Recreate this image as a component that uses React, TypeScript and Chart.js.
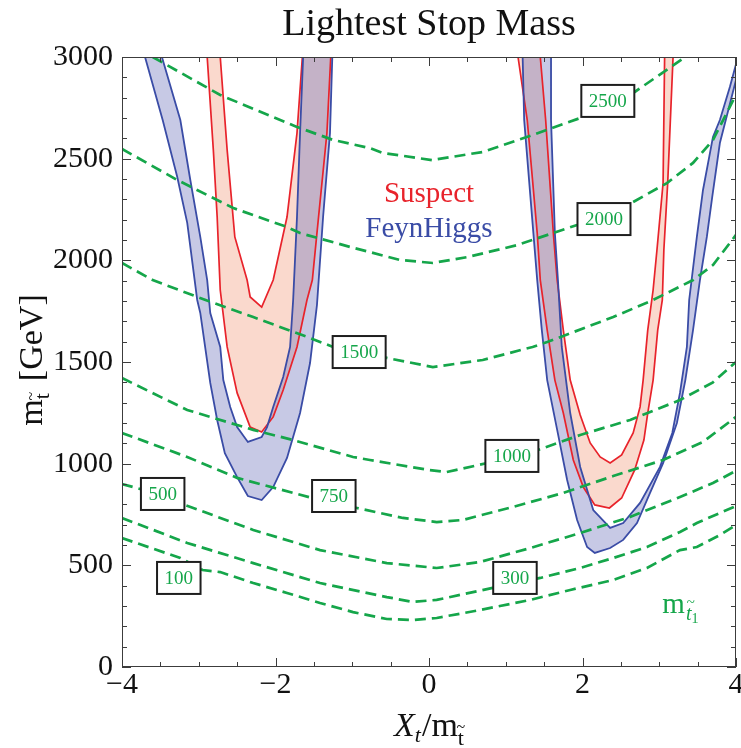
import React, { useEffect, useRef } from 'react';
import { Chart, registerables } from 'chart.js';

Chart.register(...registerables);

const W = 741;
const H = 748;
const SERIF = '"Liberation Serif", "Times New Roman", Times, serif';
const GREEN = '#15a64a';
const RED = '#e8232b';
const BLUE = '#3a4ca6';

const TITLE = 'Lightest Stop Mass';

// ---- axis ticks ----
const xTickValues = [-4, -2, 0, 2, 4];
const yTickValues = [0, 500, 1000, 1500, 2000, 2500, 3000];

// ---- m_stop1 contours (green dashed) ----
const c100X = [-4, -3.24, -2.95, -2.72, -2.29, -1.85, -1.42, -0.99, -0.55, -0.21, 0.1, 0.66, 1.32, 1.84, 2.4, 2.84, 3.27, 3.49, 3.79, 4.0];
const c100Y = [634, 536, 477, 467, 413, 364, 315, 270, 236, 231, 241, 280, 330, 379, 428, 487, 575, 590, 649, 698];

const c300X = [-4, -3.15, -2.29, -1.42, -0.55, -0.21, 0.1, 0.83, 1.45, 1.97, 2.4, 2.84, 3.27, 3.49, 4.0];
const c300Y = [733, 610, 511, 413, 344, 320, 330, 389, 438, 487, 536, 590, 664, 708, 792];

const c500X = [-4, -3.48, -3.18, -2.29, -1.42, -0.55, 0.1, 0.66, 1.32, 1.97, 2.62, 3.27, 3.7, 4.0];
const c500Y = [900, 846, 797, 674, 575, 511, 487, 516, 585, 659, 738, 836, 905, 965];

const c750X = [-4, -3.15, -2.5, -1.52, -0.94, -0.34, 0.1, 0.44, 1.09, 1.75, 2.4, 3.05, 3.57, 4.0];
const c750Y = [1151, 1033, 930, 831, 782, 733, 713, 723, 787, 856, 939, 1018, 1107, 1230];

const c1000X = [-4, -3.15, -2.29, -1.77, -0.99, -0.77, 0.0, 0.23, 0.76, 1.42, 1.97, 2.62, 3.27, 3.7, 4.0];
const c1000Y = [1421, 1264, 1166, 1116, 1033, 1018, 969, 959, 1003, 1067, 1141, 1215, 1313, 1400, 1500];

const c1500X = [-4, -3.6, -3.02, -2.29, -1.55, -1.25, -0.55, 0.05, 0.7, 1.35, 1.54, 2.23, 2.4, 2.92, 3.44, 3.7, 4.0];
const c1500Y = [1987, 1903, 1820, 1721, 1618, 1574, 1520, 1475, 1510, 1574, 1598, 1697, 1721, 1805, 1903, 1977, 2125];

const c2000X = [-4, -3.28, -2.55, -1.85, -1.68, -1.03, -0.38, 0.05, 0.5, 1.15, 1.93, 2.66, 3.1, 3.44, 3.7, 3.88, 4.01];
const c2000Y = [2548, 2395, 2257, 2164, 2134, 2066, 2002, 1987, 2016, 2075, 2174, 2287, 2380, 2479, 2592, 2725, 2823];

const c2500X = [-3.6, -2.72, -1.72, -1.25, -0.77, -0.6, 0.04, 0.7, 1.35, 1.97, 2.68, 3.34];
const c2500Y = [3000, 2813, 2656, 2592, 2552, 2528, 2493, 2533, 2616, 2700, 2828, 3000];

// contour labels
const labelText = ['2500', '2000', '1500', '1000', '750', '500', '300', '100'];
const labelX = [2.33, 2.28, -0.91, 1.08, -1.24, -3.47, 1.12, -3.26];
const labelY = [2784, 2203, 1549, 1038, 841, 851, 438, 438];

// ---- FeynHiggs band (blue) ----
const fhLeftOuterX = [-3.7, -3.47, -3.28, -3.15, -3.02, -2.98, -2.85, -2.76, -2.66, -2.5, -2.36, -2.18, -2.03, -1.85, -1.68, -1.55, -1.46, -1.38, -1.29, -1.26];
const fhLeftOuterY = [3000, 2690, 2410, 2184, 1805, 1741, 1397, 1215, 1052, 934, 841, 821, 885, 1028, 1249, 1495, 1780, 2213, 2626, 3000];
const fhLeftInnerX = [-3.48, -3.24, -3.11, -2.98, -2.89, -2.85, -2.72, -2.68, -2.59, -2.5, -2.36, -2.18, -2.11, -2.03, -1.9, -1.81, -1.77, -1.72, -1.68, -1.64];
const fhLeftInnerY = [3000, 2690, 2395, 2115, 1903, 1741, 1574, 1411, 1279, 1180, 1107, 1131, 1180, 1279, 1426, 1574, 1805, 2213, 2626, 3000];

const fhRightOuterX = [1.22, 1.24, 1.36, 1.41, 1.47, 1.54, 1.67, 1.8, 1.93, 2.06, 2.16, 2.36, 2.53, 2.71, 2.88, 3.05, 3.23, 3.34, 3.44, 3.53, 3.62, 3.69, 3.79, 3.9, 4.01, 4.12];
const fhRightOuterY = [3000, 2690, 2134, 1903, 1657, 1411, 1166, 920, 723, 590, 561, 585, 625, 708, 856, 1003, 1200, 1411, 1657, 1903, 2115, 2311, 2577, 2739, 2902, 3034];
const fhRightInnerX = [1.59, 1.59, 1.64, 1.68, 1.73, 1.84, 1.97, 2.14, 2.36, 2.53, 2.75, 3.01, 3.17, 3.27, 3.36, 3.39, 3.49, 3.57, 3.7, 3.79, 3.92, 4.05];
const fhRightInnerY = [3000, 2690, 2134, 1903, 1574, 1249, 984, 772, 684, 708, 807, 984, 1151, 1348, 1574, 1805, 2115, 2346, 2607, 2690, 2852, 3034];

// ---- Suspect band (red) ----
const suLeftOuterX = [-2.89, -2.81, -2.76, -2.72, -2.63, -2.5, -2.33, -2.18, -2.03, -1.9, -1.72, -1.59, -1.52, -1.46, -1.33, -1.28];
const suLeftOuterY = [3000, 2543, 2213, 1854, 1574, 1348, 1180, 1156, 1230, 1362, 1574, 1805, 1903, 2134, 2626, 3000];
const suLeftInnerX = [-2.72, -2.63, -2.53, -2.37, -2.33, -2.18, -2.03, -1.85, -1.72, -1.65];
const suLeftInnerY = [3000, 2543, 2115, 1903, 1820, 1770, 1903, 2213, 2626, 3000];

const suRightOuterX = [1.16, 1.28, 1.41, 1.45, 1.54, 1.64, 1.75, 1.88, 2.01, 2.16, 2.35, 2.51, 2.68, 2.8, 2.85, 2.92, 2.98, 3.04, 3.06, 3.11, 3.18];
const suRightOuterY = [3000, 2690, 2134, 1903, 1657, 1411, 1249, 1018, 885, 797, 782, 831, 969, 1116, 1249, 1411, 1657, 1805, 2051, 2380, 3000];
const suRightInnerX = [1.45, 1.52, 1.62, 1.67, 1.75, 1.84, 1.97, 2.1, 2.23, 2.36, 2.51, 2.66, 2.75, 2.79, 2.85, 2.92, 2.97, 3.05, 3.07];
const suRightInnerY = [3000, 2690, 2134, 1903, 1657, 1411, 1239, 1102, 1033, 1003, 1043, 1151, 1279, 1411, 1657, 1854, 2051, 2380, 3000];

// legend text positions (data coords)
const legendText = ['Suspect', 'FeynHiggs'];
const legendColor = [RED, BLUE];
const legendX = [0.0, 0.0];
const legendY = [2287, 2115];

// m_t1 label position (data coords)
const mLabelX = 3.04;
const mLabelY = 266;

const pts = (xs: number[], ys: number[]) => xs.map((x, i) => ({ x, y: ys[i] }));
const band = (ox: number[], oy: number[], ix: number[], iy: number[]) => [
  ...pts(ox, oy),
  ...pts(ix, iy).reverse(),
];

type Piece = { t: string; font: string; dy?: number; tilde?: string; tdy?: number; tdx?: number; gap?: number };

function piecesWidth(ctx: CanvasRenderingContext2D, pieces: Piece[]) {
  let w = 0;
  for (const p of pieces) {
    ctx.font = p.font;
    w += ctx.measureText(p.t).width + (p.gap || 0);
  }
  return w;
}

function drawPieces(ctx: CanvasRenderingContext2D, pieces: Piece[], x0: number, y0: number) {
  let x = x0;
  ctx.textAlign = 'left';
  ctx.textBaseline = 'alphabetic';
  for (const p of pieces) {
    ctx.font = p.font;
    const w = ctx.measureText(p.t).width;
    ctx.fillText(p.t, x, y0 + (p.dy || 0));
    if (p.tilde) {
      ctx.save();
      ctx.font = p.tilde;
      ctx.textAlign = 'center';
      ctx.fillText('~', x + w / 2 + (p.tdx || 0), y0 + (p.dy || 0) + (p.tdy || 0));
      ctx.restore();
    }
    x += w + (p.gap || 0);
  }
}

const decorPlugin = {
  id: 'decor',
  afterDraw(chart: any) {
    const { ctx, chartArea: a, scales } = chart;
    const xs = scales.x;
    const ys = scales.y;
    ctx.save();

    // frame
    ctx.strokeStyle = '#3c3c3c';
    ctx.lineWidth = 1;
    ctx.strokeRect(a.left + 0.5, a.top + 0.5, a.right - a.left - 1, a.bottom - a.top - 1);

    // ticks (inside)
    ctx.beginPath();
    for (let v = -4; v <= 4.001; v += 0.5) {
      const major = Math.abs(v - Math.round(v / 2) * 2) < 1e-6;
      const len = major ? 9 : 5;
      const px = Math.round(xs.getPixelForValue(v)) + 0.5;
      ctx.moveTo(px, a.bottom);
      ctx.lineTo(px, a.bottom - len);
      ctx.moveTo(px, a.top);
      ctx.lineTo(px, a.top + len);
    }
    for (let v = 0; v <= 3000; v += 100) {
      const major = v % 500 === 0;
      const len = major ? 9 : 5;
      const py = Math.round(ys.getPixelForValue(v)) + 0.5;
      ctx.moveTo(a.left, py);
      ctx.lineTo(a.left + len, py);
      ctx.moveTo(a.right, py);
      ctx.lineTo(a.right - len, py);
    }
    ctx.stroke();

    // contour labels
    ctx.font = `19px ${SERIF}`;
    for (let i = 0; i < labelText.length; i++) {
      const cx = xs.getPixelForValue(labelX[i]);
      const cy = ys.getPixelForValue(labelY[i]);
      const tw = ctx.measureText(labelText[i]).width;
      const bw = tw + 15;
      const bh = 32;
      ctx.fillStyle = '#ffffff';
      ctx.fillRect(cx - bw / 2, cy - bh / 2, bw, bh);
      ctx.strokeStyle = '#1e1e1e';
      ctx.lineWidth = 2;
      ctx.strokeRect(cx - bw / 2, cy - bh / 2, bw, bh);
      ctx.fillStyle = GREEN;
      ctx.textAlign = 'center';
      ctx.textBaseline = 'middle';
      ctx.fillText(labelText[i], cx, cy + 1);
    }

    // legend words
    ctx.font = `29px ${SERIF}`;
    ctx.textAlign = 'center';
    ctx.textBaseline = 'alphabetic';
    for (let i = 0; i < legendText.length; i++) {
      ctx.fillStyle = legendColor[i];
      ctx.fillText(legendText[i], xs.getPixelForValue(legendX[i]), ys.getPixelForValue(legendY[i]));
    }

    // m_t1 label
    ctx.fillStyle = GREEN;
    drawPieces(
      ctx,
      [
        { t: 'm', font: `29px ${SERIF}`, gap: 1 },
        { t: 't', font: `italic 20px ${SERIF}`, dy: 7, tilde: `italic 15px ${SERIF}`, tdy: -13, tdx: 2, gap: 0 },
        { t: '1', font: `14px ${SERIF}`, dy: 10 },
      ],
      xs.getPixelForValue(mLabelX),
      ys.getPixelForValue(mLabelY)
    );

    // title
    ctx.fillStyle = '#111';
    ctx.font = `38px ${SERIF}`;
    ctx.textAlign = 'center';
    ctx.textBaseline = 'alphabetic';
    ctx.fillText(TITLE, (a.left + a.right) / 2, 35);

    // x axis title
    const xPieces: Piece[] = [
      { t: 'X', font: `italic 34px ${SERIF}`, gap: 0 },
      { t: 't', font: `italic 22px ${SERIF}`, dy: 6, gap: 1 },
      { t: '/m', font: `34px ${SERIF}`, gap: 0 },
      { t: 't', font: `22px ${SERIF}`, dy: 9, tilde: `16px ${SERIF}`, tdy: -13 },
    ];
    const xw = piecesWidth(ctx, xPieces);
    ctx.fillStyle = '#111';
    drawPieces(ctx, xPieces, (a.left + a.right) / 2 - xw / 2, 736);

    // y axis title (rotated)
    const yPieces: Piece[] = [
      { t: 'm', font: `34px ${SERIF}`, gap: 0 },
      { t: 't', font: `22px ${SERIF}`, dy: 7, tilde: `16px ${SERIF}`, tdy: -13, gap: 12 },
      { t: '[GeV]', font: `34px ${SERIF}` },
    ];
    const yw = piecesWidth(ctx, yPieces);
    ctx.save();
    ctx.translate(42, 360);
    ctx.rotate(-Math.PI / 2);
    drawPieces(ctx, yPieces, -yw / 2, 0);
    ctx.restore();

    ctx.restore();
  },
};

export default function App() {
  const ref = useRef<HTMLCanvasElement>(null);
  useEffect(() => {
    document.body.style.margin = '0';
    const canvas = ref.current;
    if (!canvas) return;

    const lineDs = (data: any[], color: string, width: number, order: number, dash: number[] = []) => ({
      data,
      borderColor: color,
      borderWidth: width,
      borderDash: dash,
      pointRadius: 0,
      pointHoverRadius: 0,
      fill: false,
      tension: 0,
      order,
      clip: 0,
    });
    const fillDs = (data: any[], color: string, order: number) => ({
      data,
      backgroundColor: color,
      borderColor: 'rgba(0,0,0,0)',
      borderWidth: 0,
      pointRadius: 0,
      pointHoverRadius: 0,
      fill: 'shape',
      tension: 0,
      order,
      clip: 0,
    });

    const redFill = 'rgba(240,130,90,0.3)';
    const blueFill = 'rgba(115,120,190,0.4)';
    const dash = [11, 6];
    const gw = 2.7;

    const datasets: any[] = [
      fillDs(band(suLeftOuterX, suLeftOuterY, suLeftInnerX, suLeftInnerY), redFill, 10),
      fillDs(band(suRightOuterX, suRightOuterY, suRightInnerX, suRightInnerY), redFill, 10),
      fillDs(band(fhLeftOuterX, fhLeftOuterY, fhLeftInnerX, fhLeftInnerY), blueFill, 9),
      fillDs(band(fhRightOuterX, fhRightOuterY, fhRightInnerX, fhRightInnerY), blueFill, 9),
      lineDs(pts(suLeftOuterX, suLeftOuterY), RED, 1.7, 5),
      lineDs(pts(suLeftInnerX, suLeftInnerY), RED, 1.7, 5),
      lineDs(pts(suRightOuterX, suRightOuterY), RED, 1.7, 5),
      lineDs(pts(suRightInnerX, suRightInnerY), RED, 1.7, 5),
      lineDs(pts(fhLeftOuterX, fhLeftOuterY), BLUE, 1.8, 4),
      lineDs(pts(fhLeftInnerX, fhLeftInnerY), BLUE, 1.8, 4),
      lineDs(pts(fhRightOuterX, fhRightOuterY), BLUE, 1.8, 4),
      lineDs(pts(fhRightInnerX, fhRightInnerY), BLUE, 1.8, 4),
      lineDs(pts(c100X, c100Y), GREEN, gw, 1, dash),
      lineDs(pts(c300X, c300Y), GREEN, gw, 1, dash),
      lineDs(pts(c500X, c500Y), GREEN, gw, 1, dash),
      lineDs(pts(c750X, c750Y), GREEN, gw, 1, dash),
      lineDs(pts(c1000X, c1000Y), GREEN, gw, 1, dash),
      lineDs(pts(c1500X, c1500Y), GREEN, gw, 1, dash),
      lineDs(pts(c2000X, c2000Y), GREEN, gw, 1, dash),
      lineDs(pts(c2500X, c2500Y), GREEN, gw, 1, dash),
    ];

    const tickFont = { family: SERIF, size: 30 };

    const chart = new Chart(canvas, {
      type: 'line',
      data: { datasets },
      options: {
        animation: false,
        responsive: false,
        devicePixelRatio: 1,
        events: [],
        layout: { padding: { top: 57, right: 5, left: 0, bottom: 0 } },
        plugins: { legend: { display: false }, tooltip: { enabled: false }, title: { display: false } },
        scales: {
          x: {
            type: 'linear',
            min: -4,
            max: 4,
            grid: { display: false, drawTicks: false },
            border: { display: false },
            afterBuildTicks: (scale: any) => {
              scale.ticks = xTickValues.map((v) => ({ value: v }));
            },
            ticks: {
              font: tickFont,
              color: '#111',
              padding: 0,
              maxRotation: 0,
              autoSkip: false,
              callback: (v: any) => (Number(v) < 0 ? '\u2212' + Math.abs(Number(v)) : String(v)),
            },
            afterFit: (scale: any) => {
              scale.height = H - 667;
              scale.paddingLeft = 0;
              scale.paddingRight = 0;
            },
          },
          y: {
            type: 'linear',
            min: 0,
            max: 3000,
            grid: { display: false, drawTicks: false },
            border: { display: false },
            afterBuildTicks: (scale: any) => {
              scale.ticks = yTickValues.map((v) => ({ value: v }));
            },
            ticks: {
              font: tickFont,
              color: '#111',
              padding: 9,
              autoSkip: false,
              callback: (v: any) => String(v),
            },
            afterFit: (scale: any) => {
              scale.width = 122;
              scale.paddingTop = 0;
              scale.paddingBottom = 0;
            },
          },
        },
      } as any,
      plugins: [decorPlugin],
    });
    return () => chart.destroy();
  }, []);

  return (
    <div style={{ width: W, height: H }}>
      <canvas ref={ref} width={W} height={H} style={{ display: 'block' }} />
    </div>
  );
}
